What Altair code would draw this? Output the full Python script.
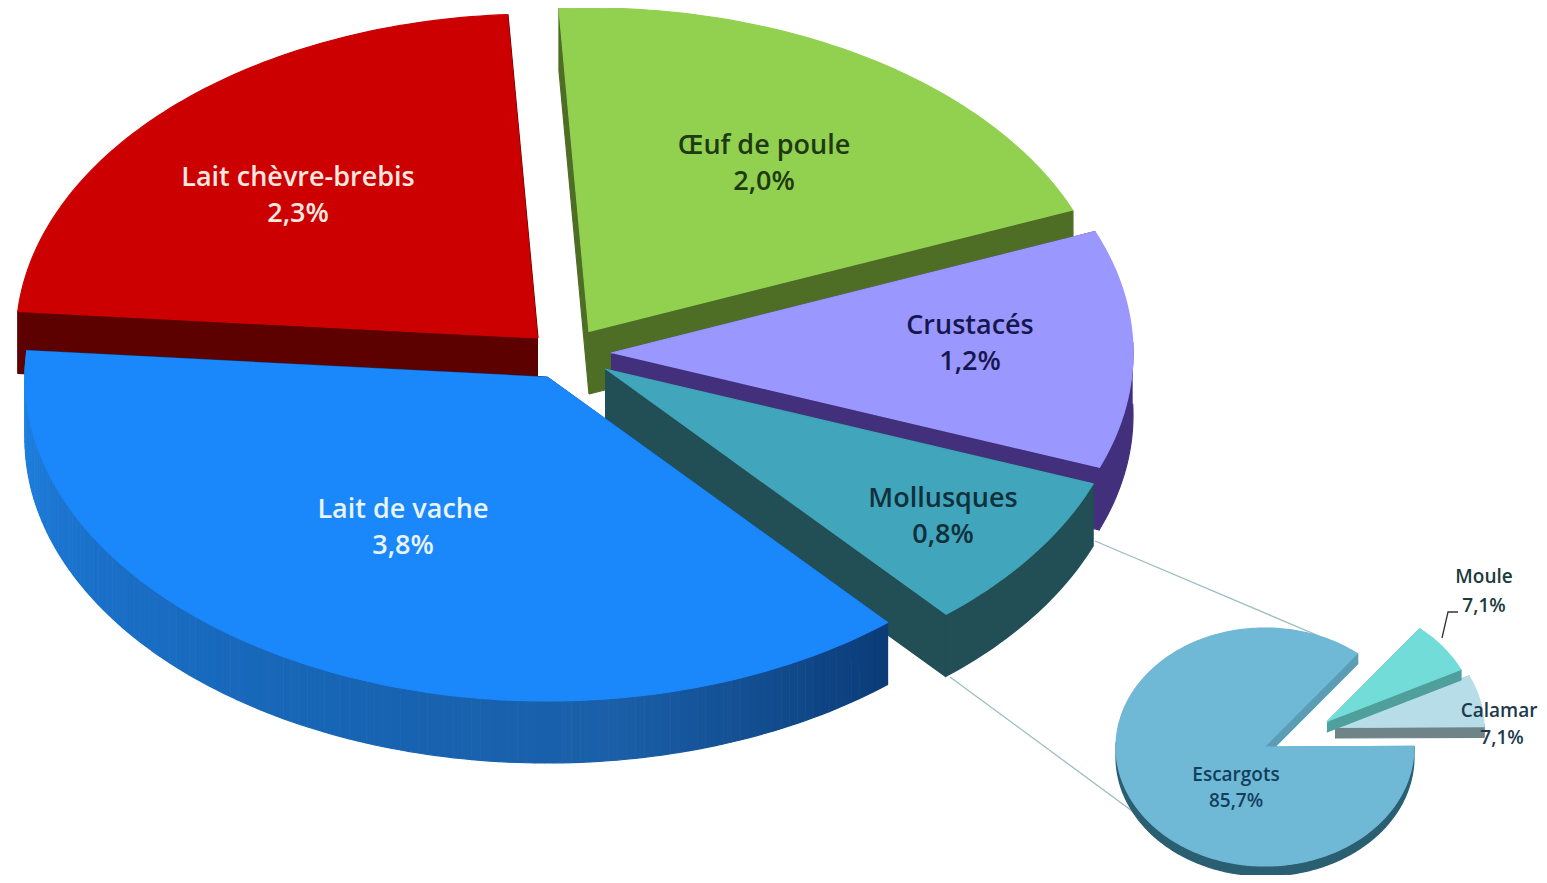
import math
import altair as alt
import pandas as pd

# ---- data ----
main_labels = ["Œuf de poule", "Crustacés", "Mollusques", "Lait de vache", "Lait chèvre-brebis"]
main_values = [2.0, 1.2, 0.8, 3.8, 2.3]
sub_labels = ["Moule", "Calamar", "Escargots"]
sub_values = [7.1, 7.1, 85.7]

# ---- styling / layout ----
MAIN_RX, MAIN_RY, MAIN_DEPTH, MAIN_START = 522, 324, 62, -93.3
SUB_RX, SUB_RY, SUB_DEPTH, SUB_START = 149, 119, 10, -51.5
main_style = {
    "Œuf de poule": dict(apex=(589, 332), top="#92d050", side=["#4e6e26"], cut="#4e6e26", text="#1d3a12"),
    "Crustacés": dict(apex=(611, 353), top="#9a97ff", side=["#43307c"], cut="#43307c", text="#17174f"),
    "Mollusques": dict(apex=(605, 369), top="#41a5bb", side=["#214f55"], cut="#214f55", text="#10303c"),
    "Lait de vache": dict(apex=(547, 377), top="#1a87fb",
                          side=["#0b3c78", "#1a5fa8", "#1765b5", "#1a70c8", "#1f82e4"],
                          cut="#0b3c78", text="#e8f4ff"),
    "Lait chèvre-brebis": dict(apex=(538, 338), top="#cc0000", side=["#5c0000"], cut="#5c0000", text="#ffe8e0"),
}
sub_style = {
    "Moule": dict(apex=(1327, 722), top="#72dcd9", side=["#4f9f9c"], cut="#4f9f9c", text="#1c3a3c"),
    "Calamar": dict(apex=(1335, 728), top="#b6dde8", side=["#6f8488"], cut="#6f8488", text="#1c3a4c"),
    "Escargots": dict(apex=(1265, 747), top="#6fb8d6", side=["#2a5f72"], cut="#5a9db5", text="#123f5c"),
}
main_text_pos = {
    "Œuf de poule": (764, 146), "Crustacés": (970, 326), "Mollusques": (943, 499),
    "Lait de vache": (403, 510), "Lait chèvre-brebis": (298, 178),
}
sub_text_pos = {"Moule": (1484, 577), "Calamar": (1499, 711), "Escargots": (1236, 775)}
sub_value_pos = {"Moule": (1484, 606), "Calamar": (1502, 738), "Escargots": (1236, 801)}
MAIN_LINE_GAP = 36
connectors = [
    ("c1", "#9dbcc2", [(1095, 541), (1345, 647)]),
    ("c2", "#9dbcc2", [(950, 677), (1162, 833)]),
    ("c3", "#333333", [(1442, 638), (1448, 612), (1458, 612)]),
]
main_draw_order = ["Lait chèvre-brebis", "Œuf de poule", "Crustacés", "Mollusques", "Lait de vache"]
sub_draw_order = ["Calamar", "Moule", "Escargots"]


def hex_rgb(c):
    return [int(c[i:i + 2], 16) for i in (1, 3, 5)]


def ramp(stops, f):
    if len(stops) == 1:
        return stops[0]
    p = f * (len(stops) - 1)
    i = min(int(p), len(stops) - 2)
    a, b = hex_rgb(stops[i]), hex_rgb(stops[i + 1])
    k = p - i
    return "#%02x%02x%02x" % tuple(round(a[j] + (b[j] - a[j]) * k) for j in range(3))


rows = []
counter = [0]


def add(pts, color):
    counter[0] += 1
    for n, (x, y) in enumerate(pts):
        rows.append(dict(shape=counter[0], seq=n, x=x, y=y, c=color))


def spans(labels, values, start):
    out, a, tot = {}, start, sum(values)
    for l, v in zip(labels, values):
        out[l] = (a, a + 360 * v / tot)
        a += 360 * v / tot
    return out


def wedge(style, t0, t1, rx, ry, d):
    ax, ay = style["apex"]
    P = lambda t: (ax + rx * math.cos(math.radians(t)), ay + ry * math.sin(math.radians(t)))
    down = lambda p: (p[0], p[1] + d)
    for t in (t0, t1):
        e = P(t)
        add([(ax, ay), e, down(e), (ax, ay + d)], style["cut"])
    stops = style["side"]
    # the wall only shows where it faces the viewer
    lo, hi = max(t0, -2), min(t1, 182)
    if t0 > 180:
        lo, hi = t0, t0
    if hi > lo:
        if len(stops) == 1:
            n = int(hi - lo) + 2
            arc = [P(lo + (hi - lo) * i / n) for i in range(n + 1)]
            add(arc + [down(p) for p in reversed(arc)], stops[0])
        else:
            a = lo
            while a < hi:
                b = min(a + 1, hi)
                p, q = P(a), P(b)
                add([p, q, down(q), down(p)], ramp(stops, (a - lo) / (hi - lo)))
                a = b
    n = max(8, int(t1 - t0))
    add([(ax, ay)] + [P(t0 + (t1 - t0) * i / n) for i in range(n + 1)], style["top"])


m_span = spans(main_labels, main_values, MAIN_START)
s_span = spans(sub_labels, sub_values, SUB_START)
for l in main_draw_order:
    wedge(main_style[l], *m_span[l], MAIN_RX, MAIN_RY, MAIN_DEPTH)
for l in sub_draw_order:
    wedge(sub_style[l], *s_span[l], SUB_RX, SUB_RY, SUB_DEPTH)

poly = pd.DataFrame(rows)
link_rows = []
for name, col, pts in connectors:
    for n, (x, y) in enumerate(pts):
        link_rows.append(dict(shape=name, seq=n, x=x, y=y, c=col))
links = pd.DataFrame(link_rows)

txt = []
for l, v in zip(main_labels, main_values):
    x, y = main_text_pos[l]
    col = main_style[l]["text"]
    txt.append(dict(x=x, y=y, t=l, c=col))
    txt.append(dict(x=x, y=y + MAIN_LINE_GAP, t=f"{v:.1f}%".replace(".", ","), c=col))
texts = pd.DataFrame(txt)
stxt = []
for l, v in zip(sub_labels, sub_values):
    col = sub_style[l]["text"]
    x, y = sub_text_pos[l]
    stxt.append(dict(x=x, y=y, t=l, c=col))
    x, y = sub_value_pos[l]
    stxt.append(dict(x=x, y=y, t=f"{v:.1f}%".replace(".", ","), c=col))
subtexts = pd.DataFrame(stxt)

X = alt.X("x:Q", axis=None, scale=alt.Scale(domain=[8, 1539], nice=False, zero=False))
Y = alt.Y("y:Q", axis=None, scale=alt.Scale(domain=[875, 8], nice=False, zero=False))

link_layer = alt.Chart(links).mark_line(strokeWidth=1.3, clip=False).encode(
    x=X, y=Y, detail="shape:N", order="seq:Q", color=alt.Color("c:N", scale=None))
poly_layer = alt.Chart(poly).mark_line(filled=True, strokeWidth=1.2, strokeJoin="round", clip=False).encode(
    x=X, y=Y, detail="shape:Q", order="seq:Q",
    fill=alt.Fill("c:N", scale=None), stroke=alt.Stroke("c:N", scale=None))
text_layer = alt.Chart(texts).mark_text(font="Open Sans", fontSize=27, fontWeight=600, align="center", baseline="middle").encode(
    x=X, y=Y, text="t:N", color=alt.Color("c:N", scale=None))
sub_text_layer = alt.Chart(subtexts).mark_text(font="Open Sans", fontSize=19, fontWeight=600, align="center", baseline="middle").encode(
    x=X, y=Y, text="t:N", color=alt.Color("c:N", scale=None))

chart = alt.layer(link_layer, poly_layer, text_layer, sub_text_layer).properties(
    width=1531, height=867, padding=0, autosize=alt.AutoSizeParams(type="none"),
    background="white",
).configure_view(strokeWidth=0)

chart.save("out.html", embed_options={"renderer": "svg", "actions": False})
